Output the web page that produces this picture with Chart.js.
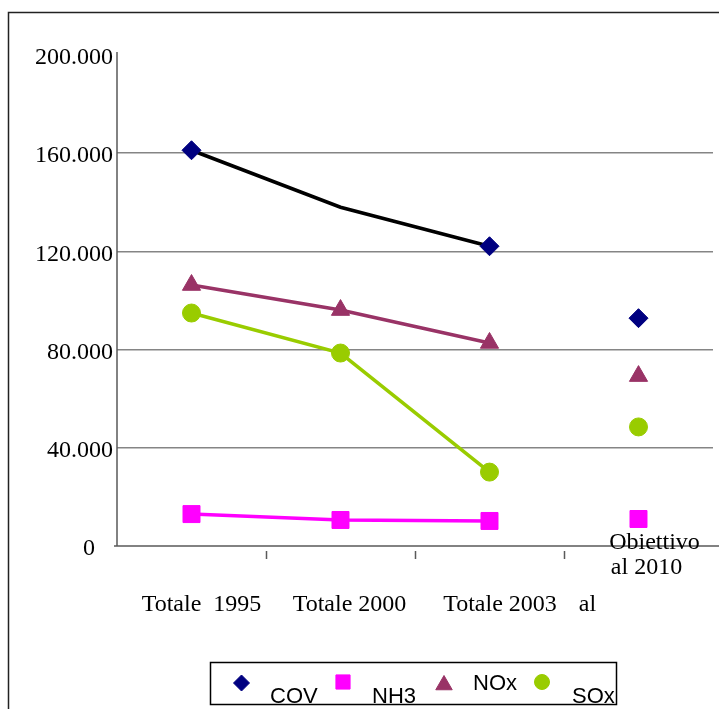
<!DOCTYPE html>
<html>
<head>
<meta charset="utf-8">
<script src="https://cdn.jsdelivr.net/npm/chart.js@4/dist/chart.umd.min.js"></script>
<style>
  html, body { margin: 0; padding: 0; background: #ffffff; }
  #wrap { width: 719px; height: 709px; }
</style>
</head>
<body>
<div id="wrap"><canvas id="c" width="719" height="709"></canvas></div>
<script>
// Categories (period) and emissions per pollutant
const categories = ['Totale  1995', 'Totale 2000', 'Totale 2003', 'Obiettivo al 2010'];
const cov = [161200, 138000, 122100, 92800];
const nh3 = [13000, 10600, 10200, 11000];
const nox = [106300, 96100, 82700, 69200];
const sox = [94900, 78600, 30100, 48500];
const yTicks = [0, 40000, 80000, 120000, 160000, 200000];

const serif = '"Liberation Serif", "Times New Roman", serif';
const sans = '"Liberation Sans", Arial, sans-serif';

function fmtThousands(v) {
  return String(v).replace(/\B(?=(\d{3})+(?!\d))/g, '.');
}

// the target (last category) is shown as a lone point, not joined to the series
const noLastSegment = { borderColor: ctx => ctx.p1DataIndex === 3 ? 'rgba(0,0,0,0)' : undefined };

const datasets = [
  { label: 'COV', data: cov, borderColor: '#000000', backgroundColor: '#000080',
    pointBackgroundColor: '#000080', pointBorderColor: '#000080',
    pointStyle: 'rectRot', pointRadius: [9.5, 0, 9.5, 9.5], legendRadius: 8 },
  { label: 'NH3', data: nh3, borderColor: '#ff00ff', backgroundColor: '#ff00ff',
    pointBackgroundColor: '#ff00ff', pointBorderColor: '#ff00ff',
    pointStyle: 'rect', pointRadius: 12, legendRadius: 10 },
  { label: 'NOx', data: nox, borderColor: '#993366', backgroundColor: '#993366',
    pointBackgroundColor: '#993366', pointBorderColor: '#993366',
    pointStyle: 'triangle', pointRadius: 10.5, legendRadius: 9.5 },
  { label: 'SOx', data: sox, borderColor: '#99cc00', backgroundColor: '#99cc00',
    pointBackgroundColor: '#99cc00', pointBorderColor: '#99cc00',
    pointStyle: 'circle', pointRadius: 9, legendRadius: 7.5 }
].map(d => Object.assign({ borderWidth: 3.5, pointBorderWidth: 1, tension: 0,
  segment: noLastSegment, fill: false }, d));

// frame, axis lines, category ticks, category labels and legend box
const decor = {
  id: 'decor',
  beforeDraw(chart) {
    const ctx = chart.ctx;
    ctx.save();
    ctx.fillStyle = '#ffffff';
    ctx.fillRect(0, 0, chart.width, chart.height);
    ctx.strokeStyle = '#222222';
    ctx.lineWidth = 1.5;
    ctx.beginPath();
    ctx.moveTo(8.5, chart.height);
    ctx.lineTo(8.5, 12.5);
    ctx.lineTo(chart.width, 12.5);
    ctx.stroke();
    ctx.restore();
  },
  afterDatasetsDraw(chart) {
    const ctx = chart.ctx;
    const xs = chart.scales.x;
    const ys = chart.scales.y;
    const area = chart.chartArea;
    const y0 = ys.getPixelForValue(0);
    ctx.save();
    // axis lines
    ctx.strokeStyle = '#5a5a5a';
    ctx.lineWidth = 1.5;
    ctx.beginPath();
    ctx.moveTo(area.left, area.top - 3);
    ctx.lineTo(area.left, y0);
    ctx.moveTo(area.left - 3, y0);
    ctx.lineTo(chart.width, y0);
    ctx.stroke();
    // category boundary ticks
    ctx.beginPath();
    for (let i = 0; i < categories.length - 1; i++) {
      const bx = Math.round((xs.getPixelForValue(i) + xs.getPixelForValue(i + 1)) / 2) + 0.5;
      ctx.moveTo(bx, y0 + 5);
      ctx.lineTo(bx, y0 + 13);
    }
    ctx.stroke();

    // category labels
    ctx.fillStyle = '#000000';
    ctx.font = '24px ' + serif;
    ctx.textAlign = 'center';
    ctx.textBaseline = 'alphabetic';
    const p = i => xs.getPixelForValue(i);
    ctx.fillText(categories[0], p(0) + 10, y0 + 65);
    ctx.fillText(categories[1], p(1) + 9, y0 + 65);
    ctx.fillText(categories[2], p(2) + 10.5, y0 + 65);
    const lastWords = categories[3].split(' ');          // Obiettivo, al, 2010
    ctx.fillText(lastWords[1], p(3) - 51, y0 + 65);
    ctx.fillText(lastWords[0], p(3) + 16, y0 + 3);
    ctx.fillText(lastWords[1] + ' ' + lastWords[2], p(3) + 8, y0 + 28);

    // legend
    const box = { l: 210.5, t: 662.5, r: 616.5, b: 704.5 };
    ctx.strokeStyle = '#000000';
    ctx.lineWidth = 1.5;
    ctx.strokeRect(box.l, box.t, box.r - box.l, box.b - box.t);
    const items = [
      { mx: 241.5, my: 683, tx: 270, ty: 703 },
      { mx: 343, my: 682, tx: 372, ty: 703 },
      { mx: 444, my: 685, tx: 473, ty: 690 },
      { mx: 542, my: 682, tx: 572, ty: 703 }
    ];
    ctx.font = '22px ' + sans;
    ctx.textAlign = 'left';
    chart.data.datasets.forEach((ds, i) => {
      const it = items[i];
      ctx.fillStyle = ds.pointBackgroundColor;
      ctx.strokeStyle = ds.pointBorderColor;
      ctx.lineWidth = 1;
      Chart.helpers.drawPoint(ctx, { pointStyle: ds.pointStyle, radius: ds.legendRadius,
        rotation: 0, borderWidth: 1 }, it.mx, it.my);
      ctx.fillStyle = '#000000';
      ctx.fillText(ds.label, it.tx, it.ty);
    });
    ctx.restore();
  }
};

new Chart(document.getElementById('c'), {
  type: 'line',
  data: { labels: categories, datasets },
  plugins: [decor],
  options: {
    responsive: false,
    animation: false,
    devicePixelRatio: 1,
    layout: { autoPadding: false, padding: { top: 55, right: 6, left: 0, bottom: 0 } },
    plugins: { legend: { display: false }, tooltip: { enabled: false } },
    scales: {
      x: {
        type: 'category',
        offset: true,
        grid: { display: false },
        border: { display: false },
        ticks: { display: false },
        afterFit(scale) { scale.height = 163; }
      },
      y: {
        min: 0,
        max: 200000,
        afterBuildTicks(scale) { scale.ticks = yTicks.map(v => ({ value: v })); },
        afterFit(scale) { scale.width = 117; },
        border: { display: false },
        grid: {
          drawTicks: false,
          lineWidth: 1.5,
          color: ctx => (ctx.tick && (ctx.tick.value === 0 || ctx.tick.value === 200000))
            ? 'rgba(0,0,0,0)' : '#858585'
        },
        ticks: {
          padding: 4,
          labelOffset: 3,
          color: '#000000',
          font: { family: serif, size: 24 },
          callback: v => v === 0 ? '0   ' : fmtThousands(v)
        }
      }
    }
  }
});
</script>
</body>
</html>
